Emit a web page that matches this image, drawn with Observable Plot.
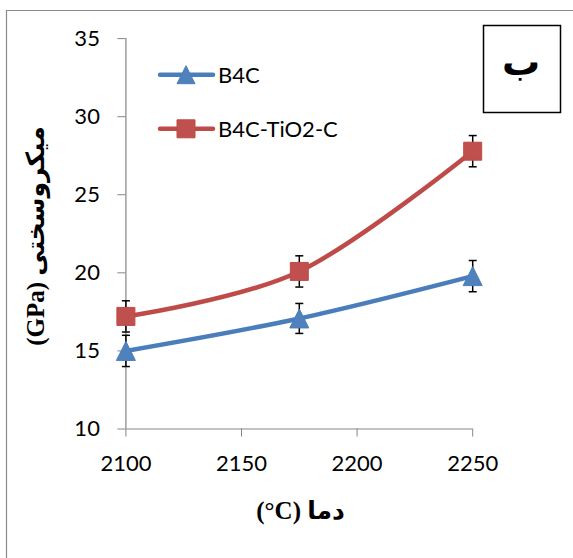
<!DOCTYPE html>
<html>
<head>
<meta charset="utf-8">
<script src="https://cdn.jsdelivr.net/npm/d3@7"></script>
<script src="https://cdn.jsdelivr.net/npm/@observablehq/plot@0.6"></script>
<style>
  html, body { margin: 0; padding: 0; background: white; }
</style>
</head>
<body>
<div id="chart"></div>
<script>
// ---- data ----
const temps = [2100, 2175, 2250];
const b4cValues = [15.0, 17.08, 19.79];
const b4cErrors = [1.0, 0.96, 1.0];
const tio2Values = [17.21, 20.09, 27.79];
const tio2Errors = [1.0, 1.0, 1.0];
const seriesNames = ["B4C", "B4C-TiO2-C"];
const xTicks = [2100, 2150, 2200, 2250];
const yTicks = [10, 15, 20, 25, 30, 35];
const yLabel = "(GPa) میکروسختی";
const xLabel = "(°C) دما";
const panelLabel = "ب";

const colors = {line: ["#4A7EBB", "#BE4B48"], fill: ["#4F81BD", "#C0504D"]};

const b4cRows = temps.map((t, i) => ({x: t, v: b4cValues[i], e: b4cErrors[i], s: seriesNames[0]}));
const tio2Rows = temps.map((t, i) => ({x: t, v: tio2Values[i], e: tio2Errors[i], s: seriesNames[1]}));
const allRows = b4cRows.concat(tio2Rows);
const capRows = allRows.flatMap(d => [{x: d.x, y: d.v - d.e}, {x: d.x, y: d.v + d.e}]);

// custom symbols
const triangle = {draw(ctx, size) { const r = Math.sqrt(size / Math.PI); ctx.moveTo(0, -r); ctx.lineTo(r, r); ctx.lineTo(-r, r); ctx.closePath(); }};
const square = {draw(ctx, size) { const r = Math.sqrt(size / Math.PI); ctx.rect(-r, -r, 2 * r, 2 * r); }};
const cap = {draw(ctx, size) { const r = Math.sqrt(size / Math.PI); ctx.moveTo(-r, 0); ctx.lineTo(r, 0); }};

const W = 573, H = 558;
const axisColor = "#868686";

const svg = Plot.plot({
  width: W, height: H,
  marginLeft: 125.4, marginRight: 100.8, marginTop: 38.1, marginBottom: 129.5,
  style: {background: "white", color: "black", fontFamily: "Lato, sans-serif", fontSize: "22px"},
  x: {domain: [2100, 2250]},
  y: {domain: [10, 35]},
  marks: [
    Plot.ruleX([2100], {stroke: axisColor, strokeWidth: 1.2}),
    Plot.ruleY([10], {stroke: axisColor, strokeWidth: 1.2}),
    Plot.axisX({ticks: xTicks, tickSize: 8, tickPadding: 18, tickFormat: d => String(d), stroke: axisColor, fill: "black", fontSize: 22, label: null}),
    Plot.axisY({ticks: yTicks, tickSize: 8, tickPadding: 18, tickFormat: d => String(d), stroke: axisColor, fill: "black", fontSize: 22, label: null}),
    Plot.ruleX(allRows, {x: "x", y1: d => d.v - d.e, y2: d => d.v + d.e, stroke: "black", strokeWidth: 1.5}),
    Plot.dot(capRows, {x: "x", y: "y", symbol: cap, r: 4, stroke: "black", strokeWidth: 1.5, fill: "none"}),
    Plot.line(b4cRows, {x: "x", y: "v", stroke: colors.line[0], strokeWidth: 4.5, curve: "cardinal", strokeLinecap: "round"}),
    Plot.line(tio2Rows, {x: "x", y: "v", stroke: colors.line[1], strokeWidth: 4.5, curve: "cardinal", strokeLinecap: "round"}),
    Plot.dot(b4cRows, {x: "x", y: "v", symbol: triangle, r: 9.5, fill: colors.fill[0], stroke: colors.line[0], strokeWidth: 1}),
    Plot.dot(tio2Rows, {x: "x", y: "v", symbol: square, r: 9, fill: colors.fill[1], stroke: colors.line[1], strokeWidth: 1})
  ]
});

const g = d3.select(svg);

// outer chart-area border (left & top)
g.append("path").attr("d", `M6.5,${H} V10.5 H${W}`).attr("fill", "none").attr("stroke", "#8a8a8a").attr("stroke-width", 1.2);

// legend
const legendSymbols = [triangle, square];
const legendY = [74.7, 128.8];
seriesNames.forEach((name, i) => {
  const y = legendY[i];
  g.append("line").attr("x1", 160).attr("x2", 213).attr("y1", y).attr("y2", y)
    .attr("stroke", colors.line[i]).attr("stroke-width", 4.5).attr("stroke-linecap", "round");
  g.append("path").attr("d", d3.symbol(legendSymbols[i], Math.PI * 9 * 9)())
    .attr("transform", `translate(186,${y})`).attr("fill", colors.fill[i]).attr("stroke", colors.line[i]);
  g.append("text").attr("x", 218).attr("y", y).attr("dy", "0.36em").attr("text-anchor", "start")
    .attr("font-family", "Lato, sans-serif").attr("font-size", 22).attr("fill", "black").text(name);
});

// panel box
g.append("rect").attr("x", 483.5).attr("y", 25.5).attr("width", 77).attr("height", 87)
  .attr("fill", "none").attr("stroke", "black").attr("stroke-width", 1.5);
g.append("text").attr("x", 521).attr("y", 62).attr("text-anchor", "middle").attr("dominant-baseline", "central")
  .attr("font-family", "'DejaVu Sans'").attr("font-weight", "bold").attr("font-size", 38).attr("fill", "black").text(panelLabel);

// axis titles
g.append("text").attr("transform", "translate(35,236) rotate(-90)").attr("text-anchor", "middle").attr("dy", "0.35em")
  .attr("font-family", "'Liberation Serif', 'DejaVu Sans'").attr("font-weight", "bold").attr("font-size", 25).attr("fill", "black").text(yLabel);
g.append("text").attr("x", 300.6).attr("y", 510.7).attr("text-anchor", "middle").attr("dy", "0.35em")
  .attr("font-family", "'Liberation Serif', 'DejaVu Sans'").attr("font-weight", "bold").attr("font-size", 25).attr("fill", "black").text(xLabel);

document.getElementById("chart").appendChild(svg);
</script>
</body>
</html>
